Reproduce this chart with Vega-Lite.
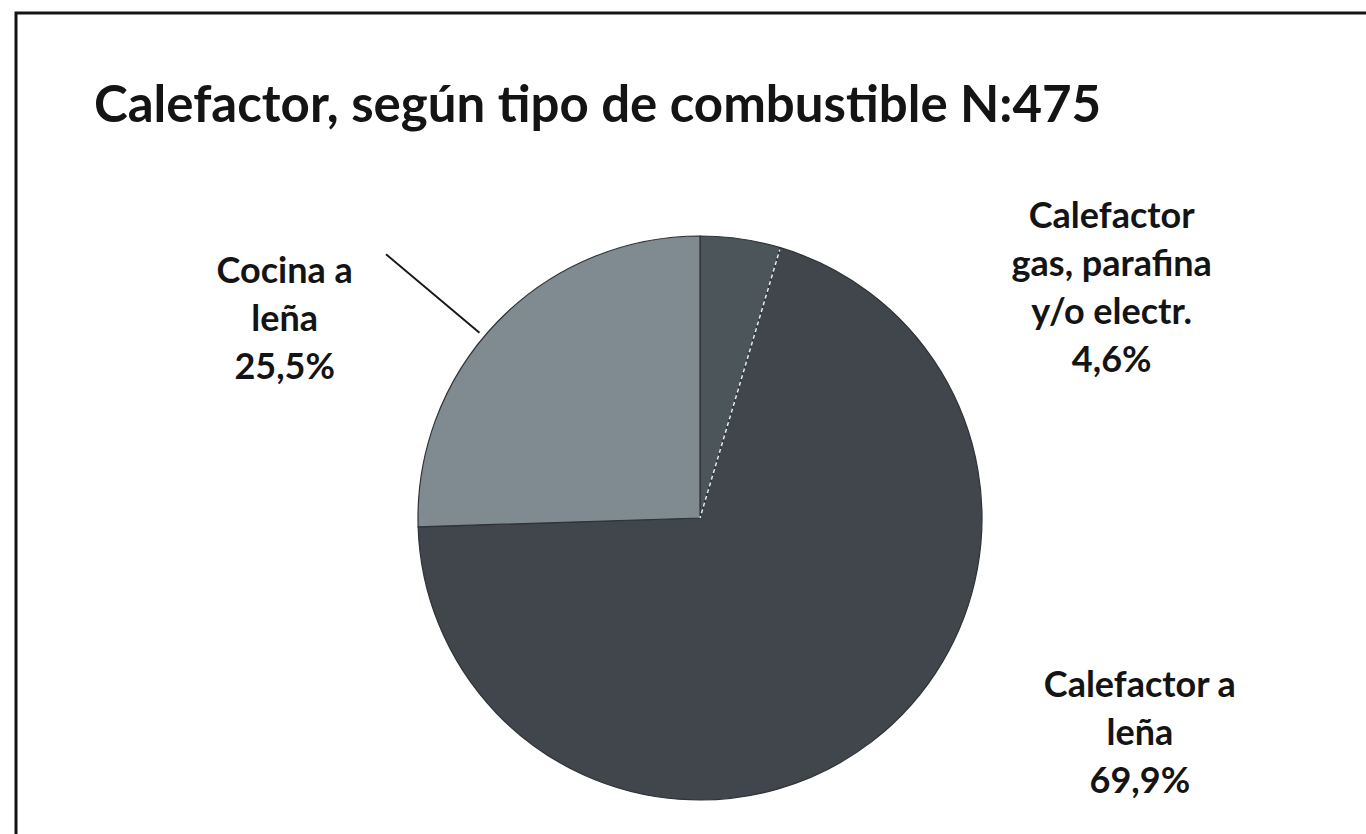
{
  "$schema": "https://vega.github.io/schema/vega-lite/v6.json",
  "width": 1368,
  "height": 1010,
  "autosize": {"type": "none"},
  "padding": {"left": 16, "top": 13, "right": 0, "bottom": 0},
  "background": "white",
  "view": {"stroke": "#141414", "strokeWidth": 3},
  "title": {
    "text": "Calefactor, según tipo de combustible N:475",
    "anchor": "start",
    "orient": "top",
    "font": "Lato",
    "fontSize": 51,
    "fontWeight": "bold",
    "color": "#141414",
    "offset": 0,
    "baseline": "alphabetic",
    "dx": 78,
    "dy": 160
  },
  "data": {
    "values": [
      {"categoria": "Calefactor gas, parafina y/o electr.", "etiqueta": "Calefactor\ngas, parafina\ny/o electr.", "valor": 4.6, "orden": 1},
      {"categoria": "Calefactor a leña", "etiqueta": "Calefactor a\nleña", "valor": 69.9, "orden": 2},
      {"categoria": "Cocina a leña", "etiqueta": "Cocina a\nleña", "valor": 25.5, "orden": 3}
    ]
  },
  "transform": [
    {"stack": "valor", "groupby": [], "sort": [{"field": "orden"}], "as": ["v0", "v1"]},
    {"calculate": "datum.etiqueta + '\\n' + replace(format(datum.valor, '.1f'), '.', ',') + '%'", "as": "texto"}
  ],
  "layer": [
    {
      "mark": {"type": "arc", "radius": 282, "stroke": "#2e3337", "strokeWidth": 1.2},
      "encoding": {
        "theta": {"field": "v0", "type": "quantitative", "scale": {"domain": [0, 100]}},
        "theta2": {"field": "v1"},
        "color": {
          "field": "categoria",
          "type": "nominal",
          "scale": {
            "domain": ["Calefactor gas, parafina y/o electr.", "Calefactor a leña", "Cocina a leña"],
            "range": ["#4b555a", "#40464b", "#808b91"]
          },
          "legend": null
        }
      }
    },
    {
      "transform": [{"filter": "datum.categoria === 'Calefactor a leña'"}],
      "mark": {"type": "arc", "radius": 280, "radius2": 0, "stroke": "#e8ecee", "strokeWidth": 1.5, "strokeDash": [2, 5], "fill": null},
      "encoding": {
        "theta": {"field": "v0", "type": "quantitative"},
        "theta2": {"field": "v0"}
      }
    },
    {
      "transform": [{"filter": "datum.categoria === 'Cocina a leña'"}],
      "mark": {"type": "arc", "radius": 410, "radius2": 288, "thetaOffset": 0.73, "theta2Offset": 0.73, "stroke": "#1a1a1a", "strokeWidth": 2, "fill": null},
      "encoding": {
        "theta": {"field": "v0", "type": "quantitative"},
        "theta2": {"field": "v0"}
      }
    },
    {
      "transform": [{"filter": "datum.categoria === 'Cocina a leña'"}],
      "mark": {"type": "text", "radius": 460, "thetaOffset": 0.476, "dy": -48, "align": "center", "baseline": "middle", "lineBreak": "\n", "lineHeight": 48, "font": "Lato", "fontSize": 36, "fontWeight": "bold", "color": "#141414"},
      "encoding": {
        "theta": {"field": "v0", "type": "quantitative"},
        "text": {"field": "texto"}
      }
    },
    {
      "transform": [{"filter": "datum.categoria === 'Calefactor gas, parafina y/o electr.'"}],
      "mark": {"type": "text", "radius": 473, "thetaOffset": 1.056, "dy": -68, "align": "center", "baseline": "middle", "lineBreak": "\n", "lineHeight": 48, "font": "Lato", "fontSize": 36, "fontWeight": "bold", "color": "#141414"},
      "encoding": {
        "theta": {"field": "v0", "type": "quantitative"},
        "text": {"field": "texto"}
      }
    },
    {
      "transform": [{"filter": "datum.categoria === 'Calefactor a leña'"}],
      "mark": {"type": "text", "radius": 489, "thetaOffset": 1.734, "dy": -46, "align": "center", "baseline": "middle", "lineBreak": "\n", "lineHeight": 48, "font": "Lato", "fontSize": 36, "fontWeight": "bold", "color": "#141414"},
      "encoding": {
        "theta": {"field": "v0", "type": "quantitative"},
        "text": {"field": "texto"}
      }
    }
  ]
}
